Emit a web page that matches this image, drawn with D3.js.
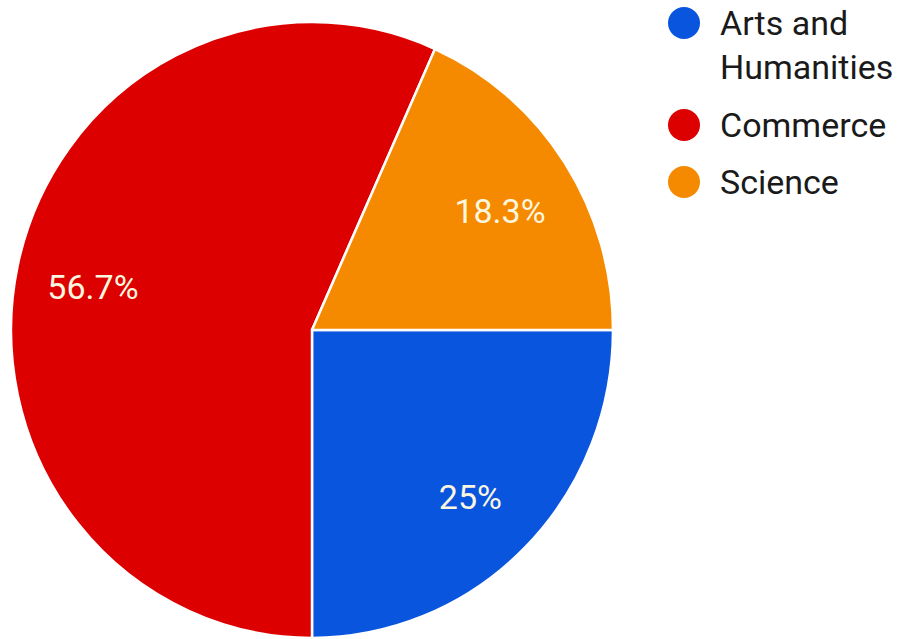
<!DOCTYPE html>
<html>
<head>
<meta charset="utf-8">
<script src="https://cdn.jsdelivr.net/npm/d3@7"></script>
<style>
  html, body { margin: 0; padding: 0; background: #ffffff; }
  svg { display: block; }
</style>
</head>
<body>
<svg id="chart" width="900" height="639"></svg>
<script>
const categories = ["Arts and Humanities", "Commerce", "Science"];
const values = [25, 56.7, 18.3];
const valueLabels = ["25%", "56.7%", "18.3%"];
const legendLines = [["Arts and", "Humanities"], ["Commerce"], ["Science"]];
const colors = ["#0a55dd", "#dd0000", "#f58a00"];

const svg = d3.select("#chart");
const cx = 312, cy = 330, r = 301, sy = 1.023;

const pie = d3.pie().sort(null).value(d => d)
  .startAngle(Math.PI / 2).endAngle(Math.PI / 2 + 2 * Math.PI);
const arcs = pie(values);
const arc = d3.arc().innerRadius(0).outerRadius(r);
const labelArc = d3.arc().innerRadius(224).outerRadius(224);

const g = svg.append("g").attr("transform", `translate(${cx},${cy}) scale(1,${sy})`);
g.selectAll("path").data(arcs).enter().append("path")
  .attr("d", arc)
  .attr("fill", (d, i) => colors[i])
  .attr("stroke", "#ffffff")
  .attr("stroke-width", 2.5)
  .attr("stroke-linejoin", "round");

const lg = svg.append("g").attr("transform", `translate(${cx},${cy})`);
lg.selectAll("text").data(arcs).enter().append("text")
  .attr("x", d => labelArc.centroid(d)[0])
  .attr("y", d => labelArc.centroid(d)[1] * sy + 5)
  .attr("dy", "0.36em")
  .attr("text-anchor", "middle")
  .attr("font-family", "Roboto, sans-serif")
  .attr("font-size", 34)
  .attr("fill", "#fbf6df")
  .text((d, i) => valueLabels[i]);

// Legend
const legendY = [23, 125, 182];
const leg = svg.append("g");
categories.forEach((c, i) => {
  leg.append("circle")
    .attr("cx", 684).attr("cy", legendY[i]).attr("r", 16)
    .attr("fill", colors[i]);
  const t = leg.append("text")
    .attr("x", 720).attr("y", legendY[i])
    .attr("font-family", "Roboto, sans-serif")
    .attr("font-size", 34)
    .attr("fill", "#1a1a1a");
  legendLines[i].forEach((line, j) => {
    t.append("tspan").attr("x", 720).attr("dy", j === 0 ? "0.36em" : "1.3em").text(line);
  });
});
</script>
</body>
</html>
